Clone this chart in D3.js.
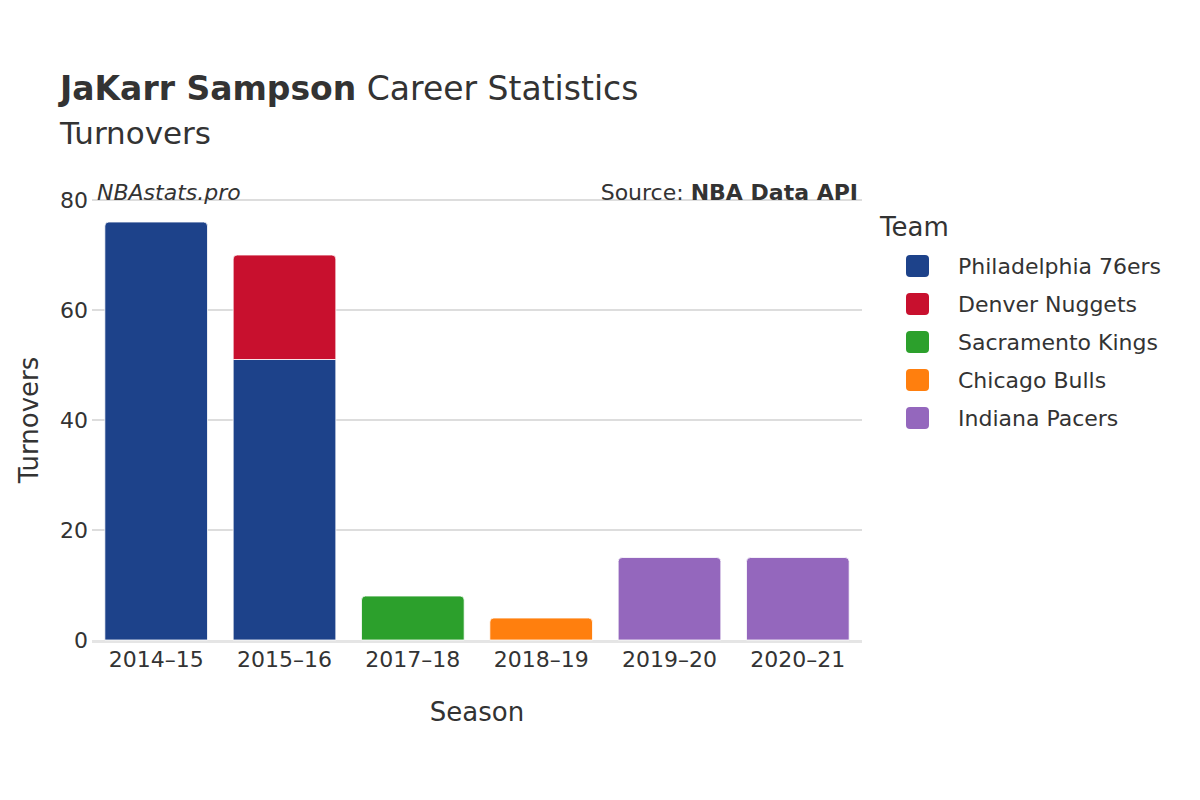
<!DOCTYPE html>
<html>
<head>
<meta charset="utf-8">
<script src="https://cdn.jsdelivr.net/npm/d3@7"></script>
<style>
  body { margin: 0; background: #fff; }
  text { font-family: "DejaVu Sans", sans-serif; fill: #333; }
</style>
</head>
<body>
<svg id="chart" width="1200" height="800"></svg>
<script>
const seasons = ["2014–15", "2015–16", "2017–18", "2018–19", "2019–20", "2020–21"];
const teams = ["Philadelphia 76ers", "Denver Nuggets", "Sacramento Kings", "Chicago Bulls", "Indiana Pacers"];
const teamColors = ["#1d428a", "#c8102e", "#2ca02c", "#ff7f0e", "#9467bd"];
// turnovers per season, per team (order of teams)
const phi = [76, 51, 0, 0, 0, 0];
const den = [0, 19, 0, 0, 0, 0];
const sac = [0, 0, 8, 0, 0, 0];
const chi = [0, 0, 0, 4, 0, 0];
const ind = [0, 0, 0, 0, 15, 15];
const yTicks = [0, 20, 40, 60, 80];

var series = [phi, den, sac, chi, ind];
var rows = seasons.map((s, i) => {
  var r = {season: s};
  teams.forEach((t, j) => r[t] = series[j][i]);
  return r;
});
var stacked = d3.stack().keys(teams)(rows);

var svg = d3.select("#chart");
var margin = {top: 200, left: 92, right: 338, bottom: 160},
  width = 1200 - margin.left - margin.right,
  height = 800 - margin.top - margin.bottom;

var x = d3.scaleBand().domain(seasons).range([0, width]).paddingInner(0.2).paddingOuter(0.1);
var y = d3.scaleLinear().domain([0, 80]).range([height, 0]);

var g = svg.append("g").attr("transform", "translate(" + margin.left + "," + margin.top + ")");

// grid
g.selectAll(".grid").data(yTicks.slice(1)).enter().append("line")
  .attr("x1", 0).attr("x2", width)
  .attr("y1", d => y(d)).attr("y2", d => y(d))
  .attr("stroke", "#bbb").attr("stroke-width", 1.2);
g.append("line").attr("x1", 0).attr("x2", width).attr("y1", height + 1.5).attr("y2", height + 1.5)
  .attr("stroke", "#e5e5e5").attr("stroke-width", 3);

// bars
stacked.forEach((layer, j) => {
  g.selectAll(".b" + j).data(layer.filter(d => d[1] > d[0])).enter().append("path")
    .attr("fill", teamColors[j])
    .attr("d", d => {
      var x0 = x(d.data.season), w = x.bandwidth();
      var top = y(d[1]), bot = y(d[0]), r = 4;
      var isTop = layer.key === teams[teams.findIndex((t, k) => k > j && d.data[t] > 0)] ? false : !teams.some((t, k) => k > j && d.data[t] > 0);
      if (!isTop) return "M" + x0 + "," + top + "h" + w + "V" + bot + "H" + x0 + "Z";
      return "M" + x0 + "," + bot + "V" + (top + r) + "q0,-" + r + " " + r + ",-" + r +
        "H" + (x0 + w - r) + "q" + r + ",0 " + r + "," + r + "V" + bot + "Z";
    })
    .attr("stroke", "#fff").attr("stroke-width", 0.8);
});

// axes
g.selectAll(".yl").data(yTicks).enter().append("text")
  .attr("x", -4).attr("y", d => y(d)).attr("dy", "0.35em")
  .attr("text-anchor", "end").attr("font-size", 22).text(d => d);
g.selectAll(".xl").data(seasons).enter().append("text")
  .attr("x", d => x(d) + x.bandwidth() / 2).attr("y", height + 27)
  .attr("text-anchor", "middle").attr("font-size", 22).text(d => d);

svg.append("text").attr("x", margin.left + width / 2).attr("y", 721)
  .attr("text-anchor", "middle").attr("font-size", 26).text("Season");
svg.append("text").attr("transform", "translate(38,420) rotate(-90)")
  .attr("text-anchor", "middle").attr("font-size", 26).text("Turnovers");

// titles
var t = svg.append("text").attr("x", 60).attr("y", 100).attr("font-size", 33);
t.append("tspan").attr("font-weight", "bold").text("JaKarr Sampson");
t.append("tspan").text(" Career Statistics");
svg.append("text").attr("x", 60).attr("y", 144).attr("font-size", 31).text("Turnovers");
svg.append("text").attr("x", 97).attr("y", 200).attr("font-size", 22).attr("font-style", "italic").text("NBAstats.pro");
var s = svg.append("text").attr("x", 858).attr("y", 200).attr("font-size", 22).attr("text-anchor", "end");
s.append("tspan").text("Source: ");
s.append("tspan").attr("font-weight", "bold").text("NBA Data API");

// legend
svg.append("text").attr("x", 880).attr("y", 236).attr("font-size", 26).text("Team");
var lg = svg.selectAll(".lg").data(teams).enter().append("g")
  .attr("transform", (d, i) => "translate(906," + (266 + i * 38) + ")");
lg.append("rect").attr("x", 0).attr("y", -11).attr("width", 23).attr("height", 22).attr("rx", 4)
  .attr("fill", (d, i) => teamColors[i]);
lg.append("text").attr("x", 52).attr("dy", "0.35em").attr("font-size", 22).text(d => d);
</script>
</body>
</html>
